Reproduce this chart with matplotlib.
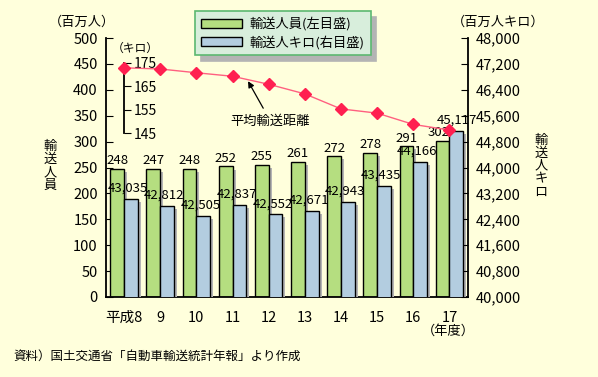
import numpy as np
import matplotlib
matplotlib.use("Agg")
import matplotlib.pyplot as plt

plt.rcParams['font.family'] = ['Noto Sans CJK JP', 'DejaVu Sans']

# data
years = ["平成8", "9", "10", "11", "12", "13", "14", "15", "16", "17"]
persons = [248, 247, 248, 252, 255, 261, 272, 278, 291, 302]           # 百万人
person_km = [43035, 42812, 42505, 42837, 42552, 42671, 42943, 43435, 44166, 45117]  # 百万人キロ
avg_km = [172.9, 172.4, 170.8, 169.3, 165.9, 161.8, 155.4, 153.6, 148.8, 146.4]   # キロ

W, H = 598, 377
bg = "#ffffdc"
green = "#b5de80"
blue = "#b3cde0"
shade = "#b4b4b4"
red = "#ff2050"

fig = plt.figure(figsize=(W / 100, H / 100), dpi=100, facecolor=bg)
ax = fig.add_axes([106 / W, 1 - 297 / H, (467.5 - 106) / W, (297 - 38) / H])
ax.set_facecolor(bg)

x = np.arange(len(years))
bw = 0.38
sx = 0.085  # shadow offset (x)

ax.bar(x - bw / 2 + sx, np.array(persons) - 6, bw, color=shade, zorder=1)
gb = ax.bar(x - bw / 2, persons, bw, color=green, edgecolor="black", linewidth=1, zorder=2)
ax.set_xlim(-0.5, len(years) - 0.5)
ax.set_ylim(0, 500)
ax.set_yticks(range(0, 501, 50))
ax.tick_params(axis="y", direction="in", length=5, labelsize=10.5, pad=6)
ax.tick_params(axis="x", length=0, labelsize=10.5, pad=10)
ax.set_xticks(x)
ax.set_xticklabels(years)
for s in ["top", "right"]:
    ax.spines[s].set_visible(False)
for s in ["left", "bottom"]:
    ax.spines[s].set_linewidth(1.3)

for i, v in enumerate(persons):
    dx = -0.1 if i == len(persons) - 1 else 0
    ax.text(x[i] - bw / 2 + dx, v + 3, str(v), ha="center", va="bottom", fontsize=9.5)

# right axis
ax2 = ax.twinx()
ax2.bar(x + bw / 2 + sx, np.array(person_km) - 95, bw, color=shade, zorder=1)
bb = ax2.bar(x + bw / 2, person_km, bw, color=blue, edgecolor="black", linewidth=1, zorder=2)
ax2.set_ylim(40000, 48000)
ax2.set_yticks(range(40000, 48001, 800))
ax2.set_yticklabels([f"{t:,}" for t in range(40000, 48001, 800)])
ax2.tick_params(axis="y", direction="in", length=5, labelsize=10.5, pad=6)
for s in ["top", "left", "bottom"]:
    ax2.spines[s].set_visible(False)
ax2.spines["right"].set_linewidth(1.3)

for i, v in enumerate(person_km):
    dx = 0.22 if i == len(person_km) - 1 else 0.11
    ax2.text(x[i] + dx, v + 130, f"{v:,}", ha="center", va="bottom", fontsize=9.5)

# average distance (inset scale)
ax3 = ax.twinx()
ax3.set_ylim(75.3, 185.6)
for s in ["top", "left", "bottom"]:
    ax3.spines[s].set_visible(False)
ax3.spines["right"].set_position(("data", 0))
ax3.spines["right"].set_bounds(145, 175)
ax3.spines["right"].set_linewidth(1.3)
ax3.yaxis.tick_right()
ax3.set_yticks([145, 155, 165, 175])
ax3.tick_params(axis="y", direction="out", length=5, labelsize=10, pad=2)
ax3.plot(x, avg_km, color="#ff6080", linewidth=1, marker="D", markersize=6,
         markerfacecolor=red, markeredgecolor=red, zorder=5)
ax3.annotate("平均輸送距離", xy=(3.43, 167.2), xytext=(4.05, 150.2),
             ha="center", va="center", fontsize=9.5,
             arrowprops=dict(arrowstyle="-|>", color="black", lw=0.9,
                             mutation_scale=9, shrinkA=3, shrinkB=0))

# legend
leg = ax.legend([gb, bb], ["輸送人員(左目盛)", "輸送人キロ(右目盛)"],
                loc="upper left", bbox_to_anchor=(195 / W, 1 - 11 / H),
                bbox_transform=fig.transFigure, fontsize=9.5,
                fancybox=False, framealpha=1, facecolor="#d8eedc",
                edgecolor="#5cb870", handlelength=3.1, handleheight=0.65,
                handletextpad=0.6, borderpad=0.45, labelspacing=0.35,
                borderaxespad=0,
                shadow={"ox": 4, "oy": -4, "color": shade, "alpha": 1})
leg.get_frame().set_linewidth(1.2)
leg.set_zorder(10)

# texts
fig.text(82 / W, 1 - 22 / H, "（百万人）", ha="center", va="center", fontsize=9.5)
fig.text(498 / W, 1 - 22 / H, "（百万人キロ）", ha="center", va="center", fontsize=9.5)
fig.text(135 / W, 1 - 48 / H, "（キロ）", ha="center", va="center", fontsize=8.5)
fig.text(50 / W, 1 - 166 / H, "\n".join("輸送人員"), ha="center", va="center",
         fontsize=9.5, linespacing=1.0)
fig.text(541 / W, 1 - 166 / H, "\n".join("輸送人キロ"), ha="center", va="center",
         fontsize=9.5, linespacing=1.0)
fig.text(448 / W, 1 - 331 / H, "（年度）", ha="center", va="center", fontsize=9.5)
fig.text(13 / W, 1 - 356 / H, "資料）国土交通省「自動車輸送統計年報」より作成",
         ha="left", va="center", fontsize=9)

fig.savefig("out.png", dpi=100, facecolor=bg)
